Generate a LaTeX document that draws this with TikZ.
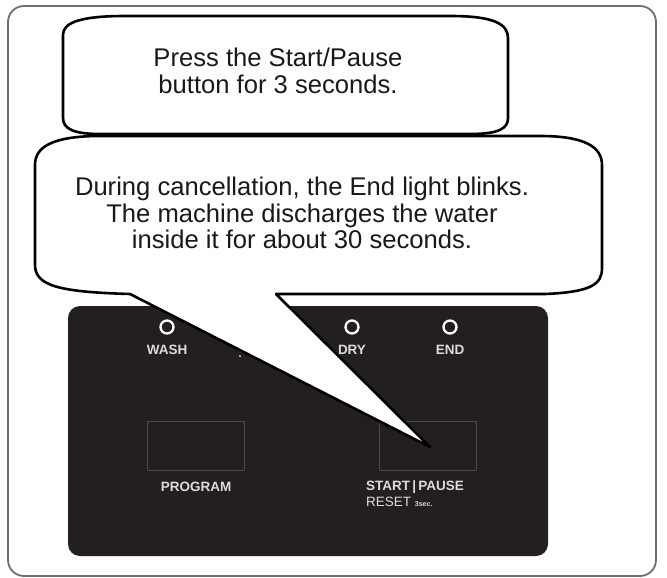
\documentclass[tikz,border=0pt]{standalone}
\usepackage{fontspec}
\setmainfont{Liberation Sans}
\newfontfamily\panelfont{Liberation Sans}
\usepackage{tikz}
\usetikzlibrary{positioning}

\definecolor{paneldark}{HTML}{231F20}
\definecolor{labelgray}{HTML}{DCDCDC}
\definecolor{btnline}{HTML}{4A4A4A}
\definecolor{framegray}{HTML}{6E6E6E}

\begin{document}
\begin{tikzpicture}[
  x=1pt, y=-1pt,
  frame/.style={draw=framegray, line width=1.8pt, rounded corners=16pt},
  panel/.style={fill=paneldark, rounded corners=12pt},
  bubble/.style={draw=black, fill=white, line width=2.6pt, line join=round},
  bubbletext/.style={align=center, font=\fontsize{25.6}{26.5}\selectfont, text=black!90},
  led/.style={circle, draw=white, line width=2.3pt, minimum size=13pt, inner sep=0pt},
  ledlabel/.style={font=\panelfont\bfseries\fontsize{13.5}{14}\selectfont, text=labelgray, inner sep=0pt},
  btn/.style={draw=btnline, line width=1pt, minimum width=97pt, minimum height=49pt, inner sep=0pt},
  btnlabel/.style={font=\panelfont\bfseries\fontsize{13.5}{17}\selectfont, text=labelgray, inner sep=0pt, align=left}
]
\useasboundingbox (0,0) rectangle (667,578);

% outer frame and control panel
\draw[frame] (8,6) rectangle (656,576);
\fill[panel] (68,306) rectangle (548,556);

% lamps
\node[led] (washled) at (167,327) {};
\node[led] (dryled) at (352,327) {};
\node[led] (endled) at (450,327) {};
\node[ledlabel, below=10pt of washled] (washlbl) {WASH};
\node[ledlabel, below=10pt of dryled] (drylbl) {DRY};
\node[ledlabel, below=10pt of endled] (endlbl) {END};
\fill[labelgray!60] (240,356) circle (1pt);

% buttons
\node[btn] (progbtn) at (196,446) {};
\node[btn] (startbtn) at (428,446) {};
\node[btnlabel, below=11pt of progbtn] (proglbl) {PROGRAM};
\node[btnlabel, below=10pt of startbtn.south west, anchor=north west, xshift=-13pt] (startlbl)
  {START\,|\,PAUSE\\[-1pt]{\mdseries RESET {\bfseries\fontsize{7}{8}\selectfont 3sec.}}};

% speech bubbles
\draw[bubble] (35,165) -- (35,265)
  .. controls (35,286) and (60,292) .. (130,294) -- (430,447) -- (276,294) -- (545,294)
  .. controls (592,292) and (602,284) .. (602,268) -- (602,165)
  .. controls (602,147) and (585,136) .. (540,136) -- (95,136)
  .. controls (52,137) and (35,147) .. (35,165) -- cycle;
\draw[bubble] (63,35) -- (63,118)
  .. controls (63,129) and (74,134) .. (100,134) -- (470,134)
  .. controls (500,134) and (508,128) .. (508,118) -- (508,38)
  .. controls (508,24) and (494,16) .. (450,16) -- (125,16)
  .. controls (76,16) and (63,24) .. (63,35) -- cycle;

\node[bubbletext] (presstxt) at (278,71) {Press the Start/Pause\\button for 3 seconds.};
\node[bubbletext] (canceltxt) at (302,213) {During cancellation, the End light blinks.\\The machine discharges the water\\inside it for about 30 seconds.};
\end{tikzpicture}
\end{document}
